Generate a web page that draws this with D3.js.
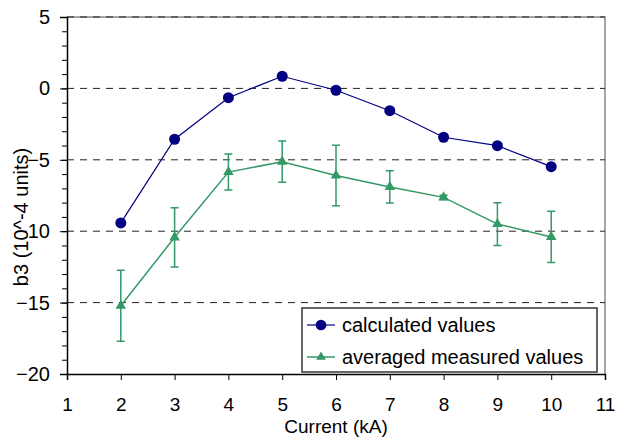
<!DOCTYPE html>
<html>
<head>
<meta charset="utf-8">
<script src="https://cdn.jsdelivr.net/npm/d3@7"></script>
<style>
  body { margin: 0; background: #fff; }
  text { font-family: "Liberation Sans", Arial, sans-serif; fill: #000; }
</style>
</head>
<body>
<div id="canvas"></div>
<script>
// values
const current = [2, 3, 4, 5, 6, 7, 8, 9, 10];
const calculated = [-9.42, -3.56, -0.65, 0.85, -0.13, -1.56, -3.42, -4.01, -5.48];
const measured = [-15.22, -10.43, -5.86, -5.13, -6.1, -6.9, -7.63, -9.5, -10.4];
const measuredErr = [2.48, 2.07, 1.26, 1.45, 2.12, 1.13, 0.15, 1.5, 1.8];
const xTicks = [1, 2, 3, 4, 5, 6, 7, 8, 9, 10, 11];
const yTicks = [5, 0, -5, -10, -15, -20];
const seriesNames = ['calculated values', 'averaged measured values'];

const width = 617, height = 437;
const plotLeft = 67, plotRight = 605, plotTop = 17, plotBottom = 374;
const blue = '#000080', green = '#339966';
const fontSize = '20px';

const svg = d3.select('#canvas')
  .append('svg')
  .attr('width', width)
  .attr('height', height);

const x = d3.scaleLinear().domain([1, 11]).range([plotLeft, plotRight]);
const y = d3.scaleLinear().domain([-20, 5]).range([plotBottom, plotTop]);

// plot frame (top / right)
svg.append('path')
  .attr('d', `M${plotLeft},${plotTop}H${plotRight}V${plotBottom}`)
  .attr('fill', 'none')
  .attr('stroke', '#888')
  .attr('stroke-width', 1.5);

// dashed gridlines
svg.append('g')
  .selectAll('line')
  .data(yTicks.filter(d => d > -20))
  .enter()
  .append('line')
  .attr('x1', plotLeft)
  .attr('x2', plotRight)
  .attr('y1', d => y(d))
  .attr('y2', d => y(d))
  .attr('stroke', '#222')
  .attr('stroke-width', 1)
  .attr('stroke-dasharray', '7,6');

// minor y ticks
svg.append('g')
  .attr('transform', `translate(${plotLeft},0)`)
  .call(d3.axisLeft(y).tickValues(d3.range(-20, 6, 1)).tickSize(5).tickFormat(''))
  .call(g => g.select('.domain').remove())
  .call(g => g.selectAll('line').attr('stroke', '#000'));

// y axis
svg.append('g')
  .attr('transform', `translate(${plotLeft},0)`)
  .call(d3.axisLeft(y).tickValues(yTicks).tickSize(7).tickPadding(10))
  .call(g => g.select('.domain').attr('stroke-width', 1.5))
  .call(g => g.selectAll('text')
    .style('font-family', '"Liberation Sans", Arial, sans-serif')
    .style('font-size', fontSize));

// x axis
svg.append('g')
  .attr('transform', `translate(0,${plotBottom})`)
  .call(d3.axisBottom(x).tickValues(xTicks).tickSize(6).tickPadding(18))
  .call(g => g.select('.domain').attr('stroke-width', 1.5))
  .call(g => g.selectAll('text')
    .style('font-family', '"Liberation Sans", Arial, sans-serif')
    .style('font-size', '19px'));

// axis titles
svg.append('text')
  .attr('x', 336)
  .attr('y', 433)
  .attr('text-anchor', 'middle')
  .style('font-size', '19px')
  .text('Current (kA)');

svg.append('text')
  .attr('transform', 'translate(28,217) rotate(-90)')
  .attr('text-anchor', 'middle')
  .style('font-size', fontSize)
  .text('b3 (10^-4 units)');

// measured series with error bars
const meas = current.map((c, i) => ({ x: c, y: measured[i], e: measuredErr[i] }));
const calc = current.map((c, i) => ({ x: c, y: calculated[i] }));
const line = d3.line().x(d => x(d.x)).y(d => y(d.y));

const errG = svg.append('g').attr('stroke', green).attr('stroke-width', 1.5);
errG.selectAll('.bar')
  .data(meas)
  .enter()
  .append('path')
  .attr('fill', 'none')
  .attr('d', d => {
    const cx = x(d.x), y0 = y(d.y + d.e), y1 = y(d.y - d.e);
    return `M${cx - 4},${y0}H${cx + 4}M${cx},${y0}V${y1}M${cx - 4},${y1}H${cx + 4}`;
  });

svg.append('path')
  .datum(meas)
  .attr('d', line)
  .attr('fill', 'none')
  .attr('stroke', green)
  .attr('stroke-width', 1.5);

svg.selectAll('.tri')
  .data(meas)
  .enter()
  .append('path')
  .attr('transform', d => `translate(${x(d.x)},${y(d.y)})`)
  .attr('d', d3.symbol(d3.symbolTriangle, 48))
  .attr('fill', green);

// calculated series
svg.append('path')
  .datum(calc)
  .attr('d', line)
  .attr('fill', 'none')
  .attr('stroke', blue)
  .attr('stroke-width', 1.2);

svg.selectAll('.dot')
  .data(calc)
  .enter()
  .append('circle')
  .attr('cx', d => x(d.x))
  .attr('cy', d => y(d.y))
  .attr('r', 5.5)
  .attr('fill', blue);

// legend
const legend = svg.append('g');
legend.append('rect')
  .attr('x', 302)
  .attr('y', 308)
  .attr('width', 295)
  .attr('height', 64)
  .attr('fill', '#fff')
  .attr('stroke', '#333')
  .attr('stroke-width', 1.5);

const rows = legend.selectAll('.row')
  .data(seriesNames)
  .enter()
  .append('g')
  .attr('transform', (d, i) => `translate(0,${325 + i * 32})`);

rows.append('line')
  .attr('x1', 307)
  .attr('x2', 335)
  .attr('stroke', (d, i) => i === 0 ? blue : green)
  .attr('stroke-width', (d, i) => i === 0 ? 1.2 : 1.5);

rows.append('path')
  .attr('transform', 'translate(321,0)')
  .attr('d', (d, i) => i === 0 ? d3.symbol(d3.symbolCircle, 90)() : d3.symbol(d3.symbolTriangle, 40)())
  .attr('fill', (d, i) => i === 0 ? blue : green);

rows.append('text')
  .attr('x', 342)
  .attr('dy', '0.35em')
  .style('font-size', fontSize)
  .text(d => d);
</script>
</body>
</html>
